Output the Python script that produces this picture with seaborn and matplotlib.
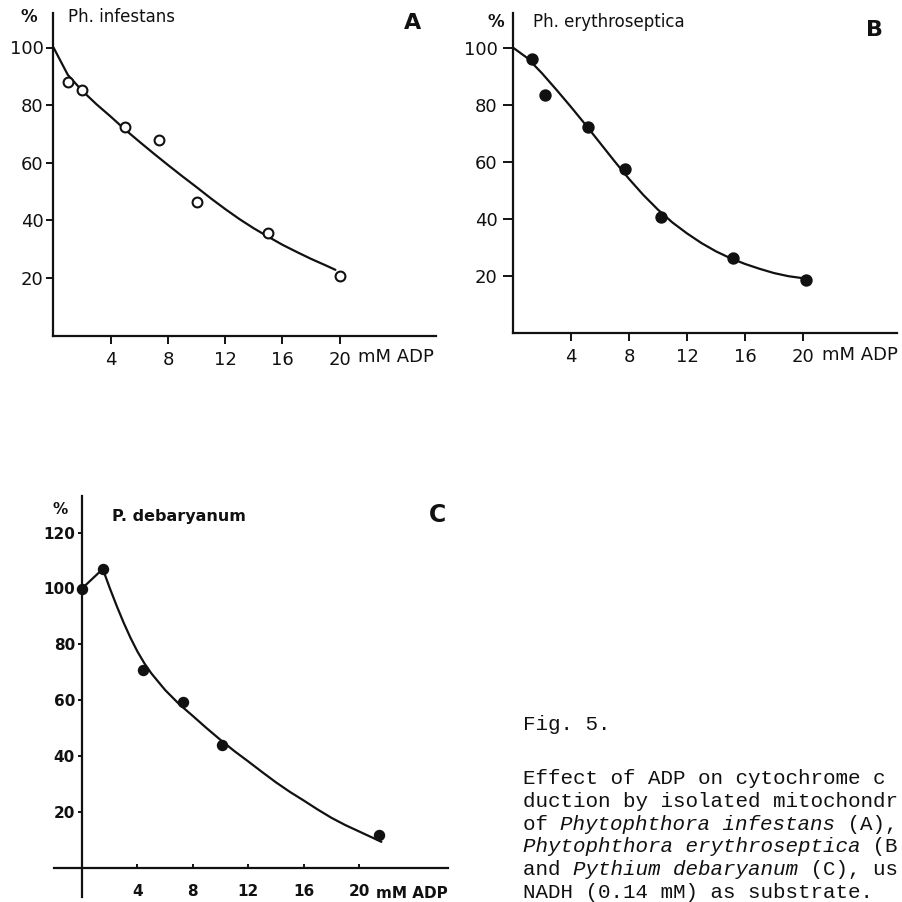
import matplotlib
matplotlib.use("Agg")
import matplotlib.pyplot as plt
import pandas as pd
import seaborn as sns

# ---------------- data ----------------
# Panel A: Ph. infestans (open circles)
a_pts_x = [1.0, 2.0, 5.0, 7.4, 10.0, 15.0, 20.0]
a_pts_y = [88.0, 85.3, 72.4, 68.0, 46.2, 35.5, 20.7]
a_fit_x = [0, 1, 2, 3, 4, 5, 6, 7, 8, 9, 10, 11, 12, 13, 14, 15, 16, 17, 18, 19, 19.7]
a_fit_y = [100, 90.5, 85.0, 80.3, 76.0, 71.5, 67.3, 63.2, 59.2, 55.3, 51.5, 47.6,
           43.9, 40.4, 37.2, 34.3, 31.5, 29.0, 26.6, 24.4, 22.8]

# Panel B: Ph. erythroseptica (filled circles)
b_pts_x = [1.3, 2.2, 5.2, 7.7, 10.2, 15.2, 20.2]
b_pts_y = [96.0, 83.4, 72.1, 57.4, 40.8, 26.2, 18.4]
b_fit_x = [0, 1, 2, 3, 4, 5, 6, 7, 8, 9, 10, 11, 12, 13, 14, 15, 16, 17, 18, 19, 20]
b_fit_y = [100, 96.3, 91.0, 85.2, 79.2, 73.0, 66.6, 60.2, 54.0, 48.3, 43.2, 38.7,
           34.9, 31.5, 28.6, 26.2, 24.2, 22.5, 21.0, 19.9, 19.2]

# Panel C: P. debaryanum (filled circles)
c_pts_x = [0.0, 1.5, 4.4, 7.3, 10.1, 21.4]
c_pts_y = [100.0, 107.0, 70.8, 59.4, 43.9, 11.6]
c_fit_x = [0, 1.5, 2, 2.5, 3, 3.5, 4, 4.5, 5, 6, 7, 8, 9, 10, 11, 12, 13, 14,
           15, 16, 17, 18, 19, 20, 21, 21.6]
c_fit_y = [100, 107, 100.2, 93.8, 87.8, 82.3, 77.4, 73.2, 69.6, 63.6, 58.6, 54.3, 49.9,
           45.7, 41.7, 38.0, 34.2, 30.5, 27.1, 24.0, 20.8, 17.8, 15.2, 12.9, 10.6, 9.2]

x_ticks = [4, 8, 12, 16, 20]
y_ticks_ab = [20, 40, 60, 80, 100]
y_ticks_c = [20, 40, 60, 80, 100, 120]
x_unit = "mM ADP"
y_unit = "%"
titles = ["Ph. infestans", "Ph. erythroseptica", "P. debaryanum"]
letters = ["A", "B", "C"]

# caption as visible in the reference (cut at the right edge of the page image)
caption_fig = "Fig. 5."
caption_lines = [
    [("Effect of ADP on cytochrome c", False)],
    [("duction by isolated mitochondr", False)],
    [("of ", False), ("Phytophthora infestans", True), (" (A),", False)],
    [("Phytophthora erythroseptica", True), (" (B", False)],
    [("and ", False), ("Pythium debaryanum", True), (" (C), us", False)],
    [("NADH (0.14 mM) as substrate.", False)],
]

# ---------------- figure ----------------
sns.set_style("white")
plt.rcParams["font.family"] = ["DejaVu Sans"]

W, H = 903, 902
fig = plt.figure(figsize=(W / 100, H / 100), dpi=100)
fig.patch.set_facecolor("white")
INK = "#111111"


def make_ax(x0, xs, y0, ys, xlim, ylim):
    left = x0 + xlim[0] * xs
    right = x0 + xlim[1] * xs
    top = y0 - ylim[1] * ys
    bottom = y0 - ylim[0] * ys
    ax = fig.add_axes([left / W, 1 - bottom / H, (right - left) / W, (bottom - top) / H])
    ax.set_xlim(xlim)
    ax.set_ylim(ylim)
    ax.patch.set_alpha(0)
    for s in ("top", "right"):
        ax.spines[s].set_visible(False)
    for s in ("left", "bottom"):
        ax.spines[s].set_position(("data", 0))
        ax.spines[s].set_linewidth(1.6)
        ax.spines[s].set_color(INK)
    return ax


def ftext(px, py, s, **kw):
    fig.text(px / W, 1 - py / H, s, color=INK, **kw)


def draw_panel(ax, fx, fy, px, py, filled, ms):
    fit = pd.DataFrame({"x": fx, "y": fy})
    pts = pd.DataFrame({"x": px, "y": py})
    sns.lineplot(data=fit, x="x", y="y", ax=ax, color=INK, linewidth=1.6,
                 sort=False, estimator=None)
    sns.scatterplot(data=pts, x="x", y="y", ax=ax, s=ms,
                    color=(INK if filled else "white"), edgecolor=INK,
                    linewidth=1.5, zorder=3, clip_on=False)
    ax.set_xlabel("")
    ax.set_ylabel("")


# ---- Panel A ----
axA = make_ax(53.5, 14.31, 335.5, 2.88, (-4, 28), (-6, 116))
draw_panel(axA, a_fit_x, a_fit_y, a_pts_x, a_pts_y, False, 50)
axA.spines["bottom"].set_bounds(0, 26.7)
axA.spines["left"].set_bounds(0, 112)
axA.set_xticks(x_ticks)
axA.set_yticks(y_ticks_ab)
axA.tick_params(axis="x", direction="out", length=6, width=1.4, pad=5,
                labelsize=13, colors=INK, bottom=True)
axA.tick_params(axis="y", direction="out", length=5, width=1.4, pad=2,
                labelsize=13, colors=INK, left=True)
ftext(21, 17, y_unit, fontsize=12, fontweight="bold", ha="left", va="center")
ftext(68, 17, titles[0], fontsize=12, ha="left", va="center")
ftext(413, 23, letters[0], fontsize=16, fontweight="bold", ha="center", va="center")
ftext(358, 357, x_unit, fontsize=13, ha="left", va="center")

# ---- Panel B ----
axB = make_ax(513, 14.5, 333, 2.854, (-4, 27), (-6, 116))
draw_panel(axB, b_fit_x, b_fit_y, b_pts_x, b_pts_y, True, 55)
axB.spines["bottom"].set_bounds(0, 26.5)
axB.spines["left"].set_bounds(0, 112)
axB.set_xticks(x_ticks)
axB.set_yticks(y_ticks_ab)
axB.tick_params(axis="x", direction="out", length=6, width=1.4, pad=5,
                labelsize=13, colors=INK, bottom=True)
axB.tick_params(axis="y", direction="out", length=7, width=1.4, pad=4,
                labelsize=13, colors=INK, left=True)
ftext(487, 22, y_unit, fontsize=12, fontweight="bold", ha="left", va="center")
ftext(533, 22, titles[1], fontsize=12, ha="left", va="center")
ftext(875, 30, letters[1], fontsize=16, fontweight="bold", ha="center", va="center")
ftext(822, 355, x_unit, fontsize=13, ha="left", va="center")

# ---- Panel C ----
axC = make_ax(82, 13.86, 867.5, 2.79, (-3, 27), (-12, 136))
draw_panel(axC, c_fit_x, c_fit_y, c_pts_x, c_pts_y, True, 45)
axC.spines["bottom"].set_bounds(-2, 26.4)
axC.spines["left"].set_bounds(-10.5, 133)
axC.set_xticks(x_ticks)
axC.set_yticks(y_ticks_c)
axC.tick_params(axis="x", direction="in", length=3, width=1.4, pad=12,
                labelsize=11, colors=INK, bottom=True)
axC.tick_params(axis="y", direction="out", length=3, width=1.4, pad=2,
                labelsize=11, colors=INK, left=True)
for lab in axC.get_xticklabels() + axC.get_yticklabels():
    lab.set_fontweight("bold")
ftext(53, 510, y_unit, fontsize=11, fontweight="bold", ha="left", va="center")
ftext(112, 517, titles[2], fontsize=11.5, fontweight="bold", ha="left", va="center")
ftext(438, 515, letters[2], fontsize=17, fontweight="bold", ha="center", va="center")
ftext(376, 893, x_unit, fontsize=11, fontweight="bold", ha="left", va="center")

# ---- Caption ----
CFS = 15
cw = 0.6 * CFS * 100 / 72  # monospace advance in px
cx0 = 523
ftext(cx0, 725, caption_fig, fontsize=CFS, family="Liberation Mono", ha="left", va="center")
for i, pieces in enumerate(caption_lines):
    y = 779 + i * 22.6
    col = 0
    for txt, ital in pieces:
        ftext(cx0 + col * cw, y, txt, fontsize=CFS, family="Liberation Mono",
              style=("italic" if ital else "normal"), ha="left", va="center")
        col += len(txt)

fig.savefig("out.png", dpi=100, facecolor="white")
